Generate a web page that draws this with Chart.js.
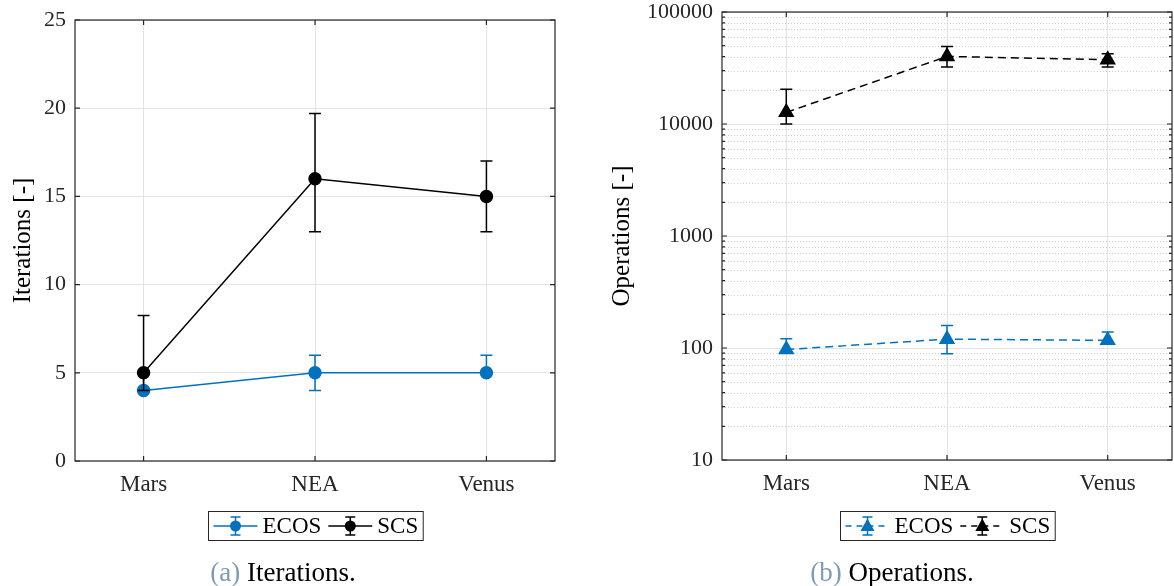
<!DOCTYPE html>
<html>
<head>
<meta charset="utf-8">
<script src="https://cdn.jsdelivr.net/npm/chart.js@4.4.1/dist/chart.umd.min.js"></script>
<style>
  body { margin: 0; background: #fff; }
  #wrap { position: relative; width: 1174px; height: 586px; overflow: hidden; }
  canvas { position: absolute; top: 0; }
  .cap { position: absolute; top: 556px; font-family: "Liberation Serif", serif; font-size: 27px; line-height: 32px; color: #000; white-space: nowrap; transform: translateX(-50%); }
  .cap span { color: #7f9bb5; }
</style>
</head>
<body>
<div id="wrap">
  <canvas id="chartIter" width="587" height="586" style="left:0px"></canvas>
  <canvas id="chartOps" width="587" height="586" style="left:587px"></canvas>
  <div class="cap" style="left:283px"><span>(a)</span> Iterations.</div>
  <div class="cap" style="left:892px"><span>(b)</span> Operations.</div>
</div>
<script>
"use strict";

var categories = ["Mars", "NEA", "Venus"];

// iterations (left plot)
var iterEcos = [4, 5, 5];
var iterEcosLow = [4, 4, 5];
var iterEcosHigh = [5, 6, 6];
var iterScs = [5, 16, 15];
var iterScsLow = [4, 13, 13];
var iterScsHigh = [8.25, 19.7, 17];

// operations (right plot, log)
var opsEcos = [97, 120, 117];
var opsEcosLow = [90, 89, 108];
var opsEcosHigh = [121, 159, 139];
var opsScs = [12700, 40100, 37500];
var opsScsLow = [10000, 32200, 32200];
var opsScsHigh = [20400, 49200, 42400];

var iterTicks = [0, 5, 10, 15, 20, 25];
var opsTicks = [10, 100, 1000, 10000, 100000];

var blue = "#0072BD";
var axisCol = "#262626";
var fontFam = "'Liberation Serif', serif";

function toPoints(arr) {
  var pts = [];
  for (var i = 0; i < arr.length; i++) {
    pts.push({ x: i, y: arr[i] });
  }
  return pts;
}

// error bars, drawn just before each dataset so the markers sit on top
var errorBarPlugin = {
  id: "errorBars",
  beforeDatasetDraw: function (chart, args) {
    var ds = chart.data.datasets[args.index];
    if (!ds.errLow) return;
    var ctx = chart.ctx;
    var ys = chart.scales.y;
    ctx.save();
    ctx.strokeStyle = ds.borderColor;
    ctx.lineWidth = 1.5;
    ctx.setLineDash([]);
    args.meta.data.forEach(function (pt, i) {
      var yl = ys.getPixelForValue(ds.errLow[i]);
      var yh = ys.getPixelForValue(ds.errHigh[i]);
      ctx.beginPath();
      ctx.moveTo(pt.x, yl); ctx.lineTo(pt.x, yh);
      ctx.moveTo(pt.x - 6, yl); ctx.lineTo(pt.x + 6, yl);
      ctx.moveTo(pt.x - 6, yh); ctx.lineTo(pt.x + 6, yh);
      ctx.stroke();
    });
    ctx.restore();
  }
};

// box, inner ticks, minor grid and legend box
var framePlugin = {
  id: "frame",
  beforeDatasetsDraw: function (chart) {
    var ys = chart.scales.y;
    var a = chart.chartArea;
    var ctx = chart.ctx;
    if (ys.type !== "logarithmic") return;
    ctx.save();
    ctx.strokeStyle = "#cfcfcf";
    ctx.lineWidth = 1;
    ctx.setLineDash([1, 2]);
    for (var d = 10; d < 100000; d *= 10) {
      for (var k = 2; k <= 9; k++) {
        var y = Math.round(ys.getPixelForValue(k * d)) + 0.5;
        ctx.beginPath();
        ctx.moveTo(a.left, y); ctx.lineTo(a.right, y);
        ctx.stroke();
      }
    }
    ctx.restore();
  },
  afterDraw: function (chart) {
    var ctx = chart.ctx;
    var a = chart.chartArea;
    var xs = chart.scales.x;
    var ys = chart.scales.y;
    ctx.save();
    ctx.strokeStyle = axisCol;
    ctx.lineWidth = 1.2;
    ctx.setLineDash([]);
    ctx.strokeRect(a.left, a.top, a.right - a.left, a.bottom - a.top);
    ctx.beginPath();
    ys.ticks.forEach(function (t) {
      var y = ys.getPixelForValue(t.value);
      ctx.moveTo(a.left, y); ctx.lineTo(a.left + 5, y);
      ctx.moveTo(a.right, y); ctx.lineTo(a.right - 5, y);
    });
    xs.ticks.forEach(function (t) {
      var x = xs.getPixelForValue(t.value);
      ctx.moveTo(x, a.bottom); ctx.lineTo(x, a.bottom - 5);
      ctx.moveTo(x, a.top); ctx.lineTo(x, a.top + 5);
    });
    if (ys.type === "logarithmic") {
      for (var d = 10; d < 100000; d *= 10) {
        for (var k = 2; k <= 9; k++) {
          var y = ys.getPixelForValue(k * d);
          ctx.moveTo(a.left, y); ctx.lineTo(a.left + 3, y);
          ctx.moveTo(a.right, y); ctx.lineTo(a.right - 3, y);
        }
      }
    }
    ctx.stroke();
    ctx.restore();
    drawLegend(chart);
  }
};

function drawLegend(chart) {
  var ctx = chart.ctx;
  var a = chart.chartArea;
  var sets = chart.data.datasets;
  ctx.save();
  ctx.font = "23px " + fontFam;
  var symW = 44, pad = 5, gap = 5, sep = 7;
  var total = pad * 2;
  sets.forEach(function (ds, i) {
    total += symW + gap + ctx.measureText(ds.label).width;
    if (i < sets.length - 1) total += sep;
  });
  var x = Math.round((a.left + a.right) / 2 - total / 2) + 0.5;
  var top = 511.5, h = 29;
  ctx.strokeStyle = axisCol;
  ctx.lineWidth = 1;
  ctx.strokeRect(x, top, total, h);
  var cy = top + h / 2;
  var cx = x + pad;
  sets.forEach(function (ds) {
    var mid = cx + symW / 2;
    ctx.strokeStyle = ds.borderColor;
    ctx.fillStyle = ds.borderColor;
    ctx.lineWidth = 1.5;
    ctx.setLineDash(ds.borderDash ? [6, 5] : []);
    ctx.beginPath();
    ctx.moveTo(cx, cy); ctx.lineTo(cx + symW, cy);
    ctx.stroke();
    ctx.setLineDash([]);
    ctx.beginPath();
    ctx.moveTo(mid, cy - 9); ctx.lineTo(mid, cy + 9);
    ctx.moveTo(mid - 5, cy - 9); ctx.lineTo(mid + 5, cy - 9);
    ctx.moveTo(mid - 5, cy + 9); ctx.lineTo(mid + 5, cy + 9);
    ctx.stroke();
    ctx.beginPath();
    if (ds.pointStyle === "triangle") {
      ctx.moveTo(mid, cy - 7.5); ctx.lineTo(mid + 7, cy + 5); ctx.lineTo(mid - 7, cy + 5);
      ctx.closePath();
    } else {
      ctx.arc(mid, cy, 5.5, 0, Math.PI * 2);
    }
    ctx.fill();
    cx += symW + gap;
    ctx.fillStyle = "#000";
    ctx.textBaseline = "middle";
    ctx.fillText(ds.label, cx, cy + 1);
    cx += ctx.measureText(ds.label).width + sep;
  });
  ctx.restore();
}

function makeOptions(yType, yMin, yMax, yTickVals, yTitle, leftW, padTop, padRight, xH, titlePad) {
  return {
    responsive: false,
    animation: false,
    layout: { autoPadding: false, padding: { top: padTop, right: padRight, left: 0, bottom: 0 } },
    plugins: { legend: { display: false }, tooltip: { enabled: false } },
    scales: {
      x: {
        type: "linear",
        min: -0.4,
        max: 2.4,
        afterBuildTicks: function (s) {
          s.ticks = categories.map(function (c, i) { return { value: i }; });
        },
        afterFit: function (s) {
          s.height = xH;
          s.paddingLeft = 0; s.paddingRight = 0;
        },
        ticks: {
          padding: 10,
          color: axisCol,
          font: { family: fontFam, size: 23 },
          callback: function (v) { return categories[v]; }
        },
        grid: { color: "#e3e3e3", drawTicks: false },
        border: { display: false }
      },
      y: {
        type: yType,
        min: yMin,
        max: yMax,
        afterBuildTicks: function (s) {
          s.ticks = yTickVals.map(function (v) { return { value: v }; });
        },
        afterFit: function (s) {
          s.width = leftW;
          s.paddingTop = 0; s.paddingBottom = 0;
        },
        ticks: {
          padding: 9,
          color: axisCol,
          font: { family: fontFam, size: 22 },
          callback: function (v) { return String(v); }
        },
        grid: { color: "#e3e3e3", drawTicks: false },
        border: { display: false },
        title: {
          display: true,
          text: yTitle,
          color: "#000",
          font: { family: fontFam, size: 25 },
          padding: { top: titlePad, bottom: 0 }
        }
      }
    }
  };
}

var ctx0 = document.getElementById("chartIter");
var myChart1 = new Chart(ctx0, {
  type: "line",
  data: {
    datasets: [
      { label: "ECOS", data: toPoints(iterEcos), errLow: iterEcosLow, errHigh: iterEcosHigh,
        borderColor: blue, backgroundColor: blue, borderWidth: 1.5, pointRadius: 6, pointStyle: "circle",
        tension: 0, order: 1 },
      { label: "SCS", data: toPoints(iterScs), errLow: iterScsLow, errHigh: iterScsHigh,
        borderColor: "#000", backgroundColor: "#000", borderWidth: 1.5, pointRadius: 6, pointStyle: "circle",
        tension: 0, order: 0 }
    ]
  },
  options: makeOptions("linear", 0, 25, iterTicks, "Iterations [-]", 75, 20, 32, 125, 8),
  plugins: [errorBarPlugin, framePlugin]
});

var ctx1 = document.getElementById("chartOps");
var myChart2 = new Chart(ctx1, {
  type: "line",
  data: {
    datasets: [
      { label: "ECOS", data: toPoints(opsEcos), errLow: opsEcosLow, errHigh: opsEcosHigh,
        borderColor: blue, backgroundColor: blue, borderWidth: 1.5, borderDash: [8, 5], pointRadius: 8,
        pointStyle: "triangle", tension: 0, order: 1 },
      { label: "SCS", data: toPoints(opsScs), errLow: opsScsLow, errHigh: opsScsHigh,
        borderColor: "#000", backgroundColor: "#000", borderWidth: 1.5, borderDash: [8, 5], pointRadius: 8,
        pointStyle: "triangle", tension: 0, order: 0 }
    ]
  },
  options: makeOptions("logarithmic", 10, 100000, opsTicks, "Operations [-]", 135, 12, 2, 126, 20),
  plugins: [errorBarPlugin, framePlugin]
});
</script>
</body>
</html>
